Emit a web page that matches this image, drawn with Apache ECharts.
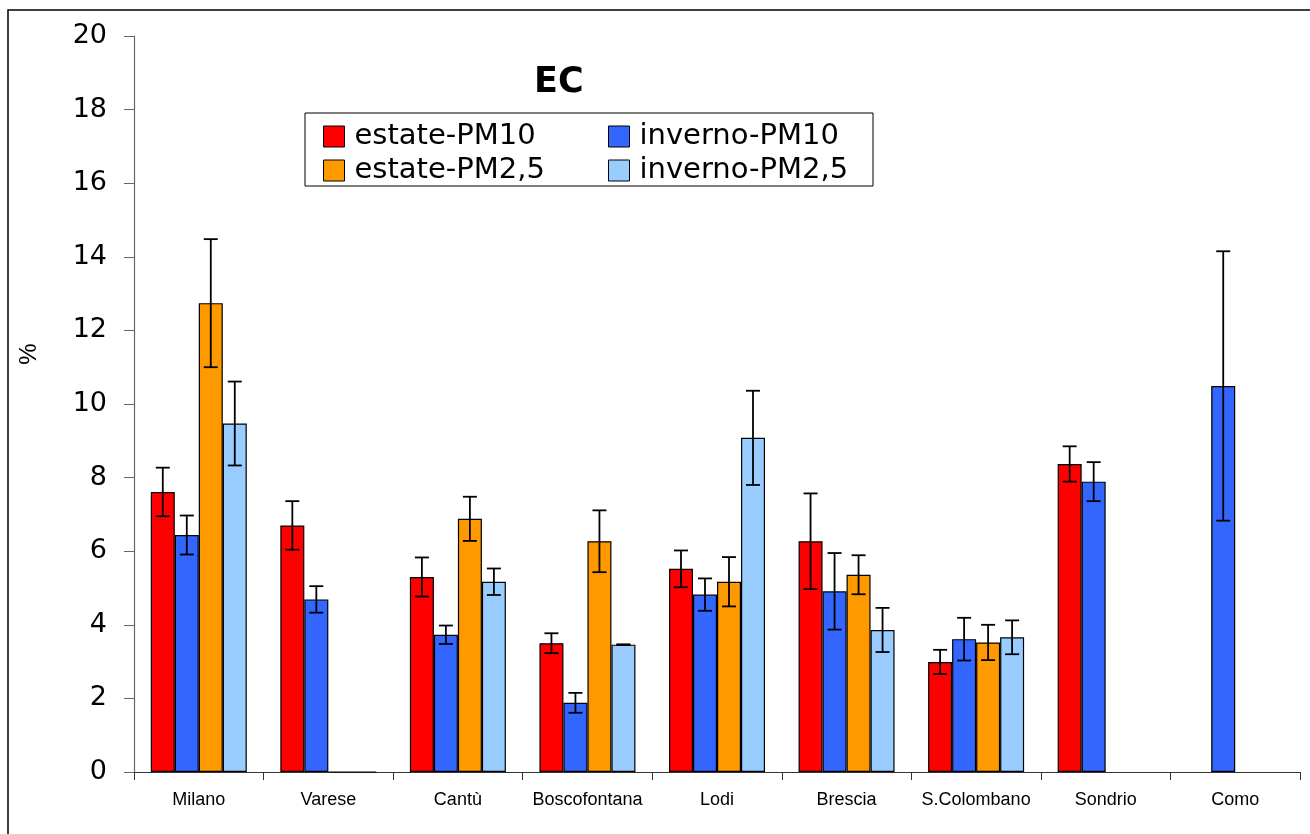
<!DOCTYPE html>
<html>
<head>
<meta charset="utf-8">
<script src="https://cdn.jsdelivr.net/npm/echarts@6/dist/echarts.min.js"></script>
<style>html,body{margin:0;padding:0;background:#fff}#c{width:1310px;height:834px}</style>
</head>
<body>
<div id="c"></div>
<script>
const categories = ['Milano','Varese','Cantù','Boscofontana','Lodi','Brescia','S.Colombano','Sondrio','Como'];
const seriesNames = ['estate-PM10','inverno-PM10','estate-PM2,5','inverno-PM2,5'];
const colors = ['#FF0000','#3366FF','#FF9900','#99CCFF'];
const estatePM10   = [7.61, 6.70, 5.30, 3.50, 5.52, 6.27, 2.99, 8.37, null];
const invernoPM10  = [6.44, 4.69, 3.73, 1.88, 4.82, 4.91, 3.61, 7.89, 10.49];
const estatePM25   = [12.74, 0, 6.88, 6.27, 5.17, 5.36, 3.52, null, null];
const invernoPM25  = [9.47, 0, 5.17, 3.46, 9.08, 3.86, 3.66, null, null];
const errEstatePM10  = [0.66, 0.66, 0.53, 0.27, 0.50, 1.30, 0.33, 0.48, null];
const errInvernoPM10 = [0.53, 0.36, 0.25, 0.27, 0.44, 1.04, 0.58, 0.53, 3.66];
const errEstatePM25  = [1.74, null, 0.60, 0.84, 0.67, 0.53, 0.48, null, null];
const errInvernoPM25 = [1.14, null, 0.36, 0.01, 1.28, 0.60, 0.46, null, null];
const yTicks = [0, 2, 4, 6, 8, 10, 12, 14, 16, 18, 20];

const values = [estatePM10, invernoPM10, estatePM25, invernoPM25];
const errors = [errEstatePM10, errInvernoPM10, errEstatePM25, errInvernoPM25];

const BAR_W = 24;
const series = [];
values.forEach((v, k) => {
  series.push({
    name: seriesNames[k], type: 'bar', data: v, barWidth: BAR_W, barGap: '0%',
    itemStyle: { color: colors[k], borderColor: '#000', borderWidth: 1.2 },
    emphasis: { disabled: true }
  });
});
values.forEach((v, k) => {
  const data = [];
  v.forEach((val, i) => { if (val != null && errors[k][i] != null) data.push([i, val, errors[k][i]]); });
  series.push({
    type: 'custom', silent: true, z: 5,
    data: data,
    renderItem: function (params, api) {
      const i = api.value(0), val = api.value(1), e = api.value(2);
      const top = api.coord([i, val + e]);
      const bot = api.coord([i, val - e]);
      const x = top[0] + (k - 1.5) * BAR_W;
      const cap = 7;
      const st = { stroke: '#000', lineWidth: 1.8 };
      return { type: 'group', children: [
        { type: 'line', shape: { x1: x, y1: top[1], x2: x, y2: bot[1] }, style: st },
        { type: 'line', shape: { x1: x - cap, y1: top[1], x2: x + cap, y2: top[1] }, style: st },
        { type: 'line', shape: { x1: x - cap, y1: bot[1], x2: x + cap, y2: bot[1] }, style: st }
      ]};
    }
  });
});

const chart = echarts.init(document.getElementById('c'));
const font = 'Liberation Sans, Arial, sans-serif';
const wide = 'DejaVu Sans, sans-serif';
const legendCommon = {
  orient: 'vertical', top: 122, itemWidth: 21, itemHeight: 21, itemGap: 5, padding: 0,
  icon: 'rect', selectedMode: false, itemStyle: { borderColor: '#000', borderWidth: 1 },
  textStyle: { fontSize: 29, color: '#000', fontFamily: wide, padding: [0, 0, 0, 5] }
};
chart.setOption({
  animation: false,
  textStyle: { fontFamily: font },
  title: { text: 'EC', left: 529, top: 60, textStyle: { fontSize: 35, fontWeight: 'bold', color: '#000', fontFamily: wide } },
  grid: { left: 134, right: 10, top: 36, bottom: 62 },
  legend: [
    Object.assign({ data: [seriesNames[0], seriesNames[2]], left: 323 }, legendCommon),
    Object.assign({ data: [seriesNames[1], seriesNames[3]], left: 608 }, legendCommon)
  ],
  graphic: [
    { type: 'rect', shape: { x: 8, y: 10, width: 1400, height: 900 }, style: { fill: 'none', stroke: '#000', lineWidth: 1.5 }, silent: true },
    { type: 'rect', shape: { x: 305, y: 113, width: 568, height: 73 }, style: { fill: 'none', stroke: '#000', lineWidth: 1 }, silent: true },
    { type: 'text', x: 29, y: 354, rotation: Math.PI / 2, silent: true,
      style: { text: '%', font: '24px ' + font, fill: '#000', textAlign: 'center', textVerticalAlign: 'middle' } }
  ],
  xAxis: {
    type: 'category', data: categories,
    axisLine: { lineStyle: { color: '#333', width: 1.2 } },
    axisTick: { show: true, length: 8, lineStyle: { color: '#333' } },
    axisLabel: { fontSize: 18, color: '#000', margin: 19, fontFamily: font, interval: 0 }
  },
  yAxis: {
    type: 'value', min: yTicks[0], max: yTicks[yTicks.length - 1], interval: 2,
    axisLine: { show: true, lineStyle: { color: '#666', width: 1.2 } },
    axisTick: { show: true, length: 10, lineStyle: { color: '#666' } },
    axisLabel: { fontSize: 27, color: '#000', margin: 27, fontFamily: wide },
    splitLine: { show: false }
  },
  series: series
});
</script>
</body>
</html>
